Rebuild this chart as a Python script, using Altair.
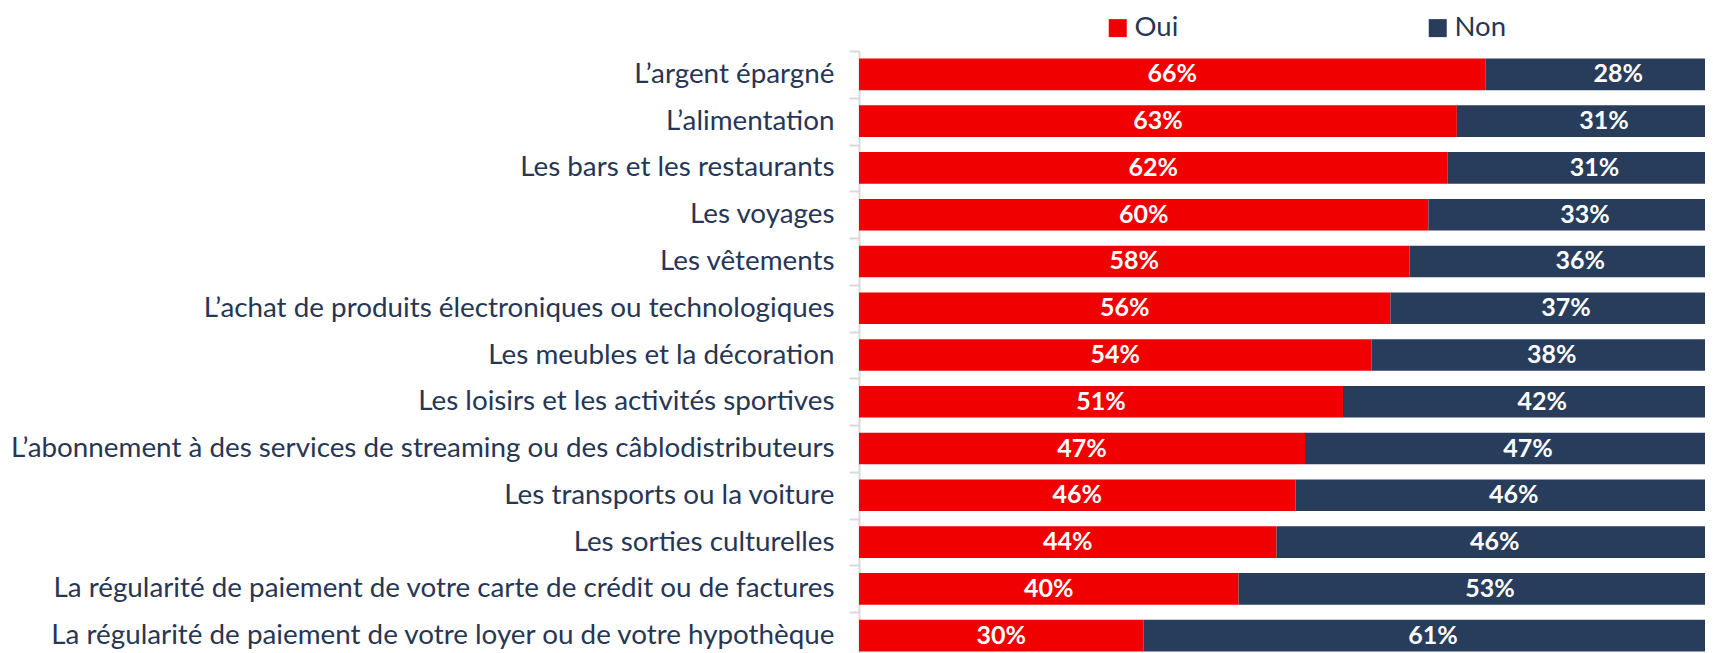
import altair as alt
import pandas as pd

categories = [
    "L’argent épargné",
    "L’alimentation",
    "Les bars et les restaurants",
    "Les voyages",
    "Les vêtements",
    "L’achat de produits électroniques ou technologiques",
    "Les meubles et la décoration",
    "Les loisirs et les activités sportives",
    "L’abonnement à des services de streaming ou des câblodistributeurs",
    "Les transports ou la voiture",
    "Les sorties culturelles",
    "La régularité de paiement de votre carte de crédit ou de factures",
    "La régularité de paiement de votre loyer ou de votre hypothèque",
]
oui = [66, 63, 62, 60, 58, 56, 54, 51, 47, 46, 44, 40, 30]
non = [28, 31, 31, 33, 36, 37, 38, 42, 47, 46, 46, 53, 61]
responses = ["Oui", "Non"]
colors = ["#F00000", "#283C5C"]

rows = []
for c, o, n in zip(categories, oui, non):
    rows.append({"cat": c, "rep": "Oui", "val": o, "ord": 0})
    rows.append({"cat": c, "rep": "Non", "val": n, "ord": 1})
df = pd.DataFrame(rows)

text_color = "#263654"

base = alt.Chart(df).transform_stack(
    stack="val", groupby=["cat"], as_=["x0", "x1"],
    sort=[alt.SortField("ord", order="ascending")]
).transform_calculate(
    mid="(datum.x0 + datum.x1) / 2",
    lab="datum.val + '%'"
)

y_enc = alt.Y(
    "cat:N", sort=categories, title=None,
    scale=alt.Scale(paddingInner=0, paddingOuter=0),
    axis=alt.Axis(
        labelFont="Lato", labelFontSize=27.8, labelColor=text_color,
        labelPadding=15, tickSize=10, tickColor="#D9D9D9", tickWidth=2,
        domainColor="#D9D9D9", domainWidth=2, tickBand="extent",
        labelLimit=1000,
    ),
)

bars = base.mark_bar(size=31.6, clip=True).encode(
    y=y_enc,
    x=alt.X("x0:Q", scale=alt.Scale(domain=[0, 89.15], nice=False), axis=None),
    x2="x1:Q",
    color=alt.Color(
        "rep:N",
        scale=alt.Scale(domain=responses, range=colors),
        legend=alt.Legend(
            title=None, orient="none", direction="horizontal",
            legendX=245, legendY=-37,
            symbolType="square", symbolSize=324, symbolStrokeWidth=0,
            labelFont="Lato", labelFontSize=27.5, labelColor=text_color,
            labelOffset=3, columnPadding=245, padding=0,
        ),
    ),
)

texts = base.mark_text(
    font="Lato", fontSize=25, fontWeight="bold", color="white",
    align="center", baseline="middle",
).encode(
    y=alt.Y("cat:N", sort=categories),
    x=alt.X("mid:Q"),
    text="lab:N",
)

chart = alt.layer(bars, texts).properties(
    width=846, height=608,
    autosize=alt.AutoSizeParams(type="none"),
    padding={"left": 851, "top": 43, "right": 0, "bottom": 0},
).configure_view(stroke=None)

chart.save("out.html", embed_options={"renderer": "svg", "actions": False})
